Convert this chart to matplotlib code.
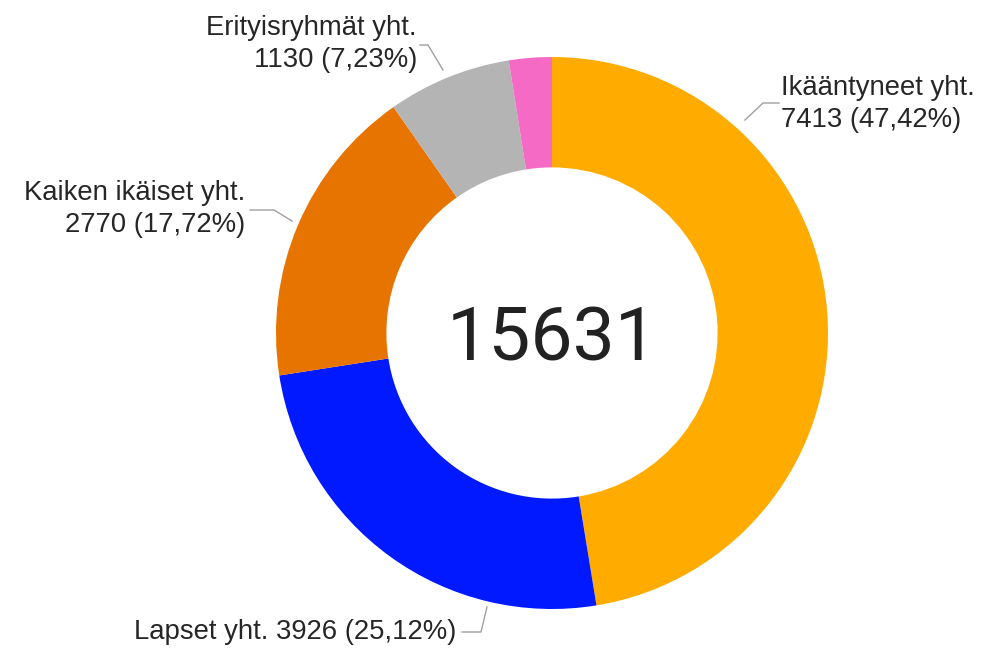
import matplotlib
matplotlib.use("Agg")
import matplotlib.pyplot as plt
import numpy as np

categories = ["Ikääntyneet yht.", "Lapset yht.", "Kaiken ikäiset yht.", "Erityisryhmät yht.", "Muut"]
values = [7413, 3926, 2770, 1130, 392]
colors = ["#FFAB00", "#0019FF", "#E87400", "#B4B4B4", "#F46AC4"]
total = sum(values)

W, H = 985, 650
fig = plt.figure(figsize=(W / 100, H / 100), dpi=100)
ax = fig.add_axes([0, 0, 1, 1])

cx, cy, R = 552, H - 333, 276
ax.pie(values, colors=colors, startangle=90, counterclock=False,
       center=(cx, cy), radius=R, frame=True,
       wedgeprops=dict(width=R * 0.4, linewidth=0))
ax.set_xlim(0, W)
ax.set_ylim(0, H)
ax.set_aspect("equal")
ax.axis("off")

ax.text(cx, cy - 7, f"{total}", ha="center", va="center", fontsize=54,
        family="Roboto", fontweight="normal", color="#222222")

def fmt(v):
    return f"{v} ({v / total * 100:.2f}%)".replace(".", ",")

font = dict(family="Liberation Sans", fontsize=19.8, color="#262626")
lc = "#A0A0A0"

def P(x, y):
    return (x, H - y)

# Ikääntyneet
l = [P(745, 120), P(763, 103), P(779, 103)]
ax.plot([p[0] for p in l], [p[1] for p in l], color=lc, lw=1)
ax.text(*P(781, 104), f"{categories[0]}\n{fmt(values[0])}", ha="left", va="center",
        linespacing=1.3, **font)
# Erityisryhmät
l = [P(443, 70), P(428, 45), P(420, 45)]
ax.plot([p[0] for p in l], [p[1] for p in l], color=lc, lw=1)
ax.text(*P(417, 44), f"{categories[3]}\n{fmt(values[3])}", ha="right", va="center",
        linespacing=1.3, multialignment="right", **font)
# Kaiken ikäiset
l = [P(292, 221), P(274, 210), P(250, 210)]
ax.plot([p[0] for p in l], [p[1] for p in l], color=lc, lw=1)
ax.text(*P(245, 209), f"{categories[2]}\n{fmt(values[2])}", ha="right", va="center",
        linespacing=1.3, multialignment="right", **font)
# Lapset
l = [P(487, 607), P(481, 632), P(462, 632)]
ax.plot([p[0] for p in l], [p[1] for p in l], color=lc, lw=1)
ax.text(*P(456, 632), f"{categories[1]} {fmt(values[1])}", ha="right", va="center", **font)

fig.savefig("out.png", dpi=100, facecolor="white")
